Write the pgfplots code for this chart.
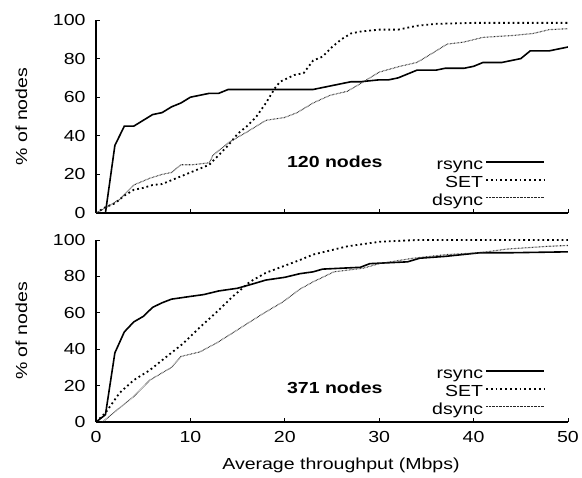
\documentclass[border=0pt]{standalone}
\usepackage{fontspec}
\setmainfont{Liberation Sans}[FakeStretch=1.22]
\usepackage{pgfplots}
\pgfplotsset{compat=1.18}

\newcommand{\tfont}{\fontsize{16}{18}\selectfont}

\pgfplotsset{
  cdfax/.style={
    scale only axis,
    width=472pt,
    xmin=0, xmax=50,
    ymin=0, ymax=100,
    axis lines*=left,
    axis line style={line width=1.3pt},
    tick align=inside,
    major tick length=4pt,
    tick style={black, line width=0.8pt},
    xtick={0,10,20,30,40,50},
    ytick={0,20,40,60,80,100},
    yticklabels={0,20,40,60,80,100},
    xticklabel style={font=\tfont, yshift=-6pt},
    yticklabel style={font=\tfont, xshift=-7pt},
    label style={font=\fontsize{16}{19}\selectfont},
    ylabel={\% of nodes},
    ylabel style={at={(axis description cs:-0.158,0.5)}, anchor=center},
    xlabel style={xshift=9pt, yshift=-8pt},
    legend style={draw=none, fill=none, font=\tfont,
      legend cell align=right, anchor=south east, row sep=0pt,
      nodes={text height=11.5pt, text depth=3.5pt, inner ysep=1.5pt}},
    legend plot pos=right,
    legend image code/.code={\draw[#1] (0pt,4pt) -- (58pt,4pt);},
  },
  rs/.style={black, line width=1.6pt},
  st/.style={black, line width=1.8pt, dash pattern=on 1.8pt off 3.0pt},
  ds/.style={black!85, line width=1.1pt, dash pattern=on 0.6pt off 0.8pt},
}

\begin{document}
\begin{tikzpicture}
\path[use as bounding box] (0pt,0pt) rectangle (582pt,-478pt);

% upper panel
\begin{axis}[cdfax,
  at={(96pt,-20pt)}, anchor=north west,
  height=193pt,
  xticklabels={},
  legend style={at={(axis description cs:0.958,0.0)}},
]
\addplot[rs] coordinates {(0,0)(1,0)(2,35)(3,45)(4,45)(5,48)(6,51)(7,52)(8,55)(9,57)(10,60)(11,61)(12,62)(13,62)(14,64)(23,64)(25,66)(27,68)(28,68)(30,69)(31,69)(32,70)(34,74)(36,74)(37,75)(39,75)(40,76)(41,78)(43,78)(45,80)(46,84)(48,84)(50,86)};
\addlegendentry{rsync}
\addplot[st] coordinates {(0,0)(1,3)(2,5)(3,9)(4,12)(5,13)(6,14.5)(7,15)(8,17)(9,19)(10,21)(11,23)(12,25)(13,30)(14,35)(15,41)(16,45)(17,50)(18,57)(19,65)(19.5,68)(21,71.5)(22,72.5)(23,79)(24,81)(25,86)(26,90)(27,93)(28,94)(30,95)(32,95)(34,97)(36,98)(40,98.5)(50,98.5)};
\addlegendentry{SET}
\addplot[ds] coordinates {(0,0)(1,2.6)(2.5,7)(4,14.5)(5.7,18)(7,20)(8,21)(9,25)(10.2,25)(12,26)(12.4,30)(14.2,37)(16,42)(18,48)(20,49.5)(21.3,52)(23,57)(24.8,61)(26.6,63)(28,67)(30,73)(32.2,76)(34,78)(35.7,83)(37.2,87.5)(38.9,88.5)(41,91)(44.2,92)(46.3,93)(48,95)(50,95.5)};
\addlegendentry{dsync}
\node[font=\tfont\bfseries] at (rel axis cs:0.506,0.264) {120 nodes};
\end{axis}

% lower panel
\begin{axis}[cdfax,
  at={(96pt,-240pt)}, anchor=north west,
  height=182pt,
  xticklabels={0,10,20,30,40,50},
  xlabel={Average throughput (Mbps)},
  legend style={at={(axis description cs:0.958,0.0)}},
]
\addplot[rs] coordinates {(0,0)(1,4)(2,38)(3,49.5)(4,55)(5,58)(6,63)(7,65.5)(8,67.5)(10,69)(11.4,70)(13,72)(15,73.5)(16.7,76)(18,78)(20,79.5)(21.6,81.5)(23,82.5)(24,84)(28,85)(29,87)(33,88)(34.3,90)(37,91)(40.7,93)(44,93)(50,93.5)};
\addlegendentry{rsync}
\addplot[st] coordinates {(0,0)(1,5)(2.5,16)(4,23)(5.7,28.5)(7.5,36)(9.2,43)(11,52)(12.8,60.5)(14.5,69)(16.3,77)(18,82)(19.8,85.5)(21.6,89)(23,92)(26.6,96.5)(30,99)(34,100)(50,100)};
\addlegendentry{SET}
\addplot[ds] coordinates {(0.7,0)(2.2,6.5)(4,14)(5.7,23)(7.5,28.5)(8,30)(9,36)(11,38.5)(12.8,43.5)(14.5,49)(16.3,55)(18,60.5)(19.8,66)(21.6,73)(23,77)(25.2,82.5)(28.3,84.5)(30,87)(33.6,90)(37.2,92)(40.7,93)(43.5,95)(47.8,96.5)(50,97)};
\addlegendentry{dsync}
\node[font=\tfont\bfseries] at (rel axis cs:0.506,0.19) {371 nodes};
\end{axis}
\end{tikzpicture}
\end{document}
